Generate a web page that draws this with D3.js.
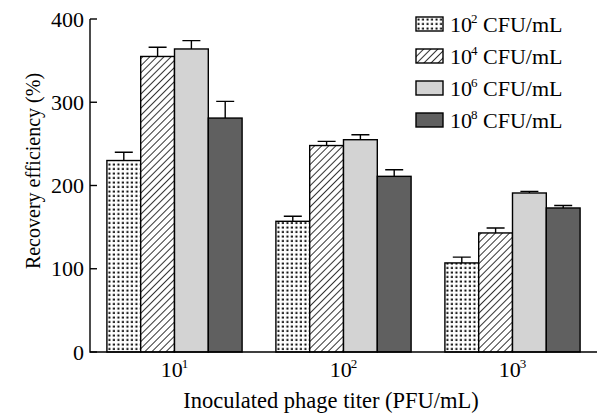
<!DOCTYPE html>
<html>
<head>
<meta charset="utf-8">
<script src="https://cdn.jsdelivr.net/npm/d3@7"></script>
<style>
  body { margin: 0; background: #fff; }
  text { font-family: "Liberation Serif", "Times New Roman", serif; fill: #000; }
</style>
</head>
<body>
<div id="chart"></div>
<script>
// ---------- Data ----------
const groups = ["1", "2", "3"];            // exponents of 10 (PFU/mL)
const seriesExp = ["2", "4", "6", "8"];    // exponents of 10 (CFU/mL)
const values = [
  [230, 355, 364, 281],
  [157, 248, 255, 211],
  [107, 143, 191, 173]
];
const errors = [
  [10, 11, 10, 20],
  [6, 5, 6, 8],
  [7, 6, 2, 3]
];
const yTicks = [0, 100, 200, 300, 400];

// ---------- Layout ----------
const width = 597, height = 414;
const plot = { left: 90, right: 597, top: 19, bottom: 352 };

const svg = d3.select("#chart").append("svg")
  .attr("width", width)
  .attr("height", height);

// ---------- Patterns ----------
const defs = svg.append("defs");

const dots = defs.append("pattern")
  .attr("id", "dots")
  .attr("patternUnits", "userSpaceOnUse")
  .attr("width", 4.5).attr("height", 4.5);
dots.append("rect").attr("width", 4.5).attr("height", 4.5).attr("fill", "#fff");
dots.append("rect").attr("x", 1.5).attr("y", 1.5).attr("width", 2).attr("height", 2).attr("fill", "#000");

const hatch = defs.append("pattern")
  .attr("id", "hatch")
  .attr("patternUnits", "userSpaceOnUse")
  .attr("width", 5).attr("height", 5)
  .attr("patternTransform", "rotate(45)");
hatch.append("rect").attr("width", 5).attr("height", 5).attr("fill", "#fff");
hatch.append("line")
  .attr("x1", 0).attr("y1", 0).attr("x2", 0).attr("y2", 5)
  .attr("stroke", "#000").attr("stroke-width", 1.6);

const fills = ["url(#dots)", "url(#hatch)", "#d3d3d3", "#606060"];

// ---------- Scales ----------
const x = d3.scaleBand()
  .domain(groups)
  .range([plot.left, plot.right])
  .paddingInner(0.2)
  .paddingOuter(0.1);

const xInner = d3.scaleBand()
  .domain(seriesExp)
  .range([0, x.bandwidth()]);

const y = d3.scaleLinear()
  .domain([0, 400])
  .range([plot.bottom, plot.top]);

// ---------- Bars ----------
const gGroups = svg.selectAll(".group")
  .data(groups)
  .enter()
  .append("g")
  .attr("class", "group")
  .attr("transform", d => `translate(${x(d)},0)`);

gGroups.each(function(g, gi) {
  const sel = d3.select(this);
  const rows = seriesExp.map((s, si) => ({ s, si, v: values[gi][si], e: errors[gi][si] }));

  // error bars
  sel.selectAll(".err")
    .data(rows)
    .enter()
    .append("path")
    .attr("class", "err")
    .attr("fill", "none")
    .attr("stroke", "#000")
    .attr("stroke-width", 1.4)
    .attr("d", d => {
      const cx = xInner(d.s) + xInner.bandwidth() / 2;
      const top = y(d.v + d.e);
      return `M${cx},${y(d.v)}V${top}M${cx - 9},${top}H${cx + 9}`;
    });

  sel.selectAll(".bar")
    .data(rows)
    .enter()
    .append("rect")
    .attr("class", "bar")
    .attr("x", d => xInner(d.s))
    .attr("y", d => y(d.v))
    .attr("width", xInner.bandwidth())
    .attr("height", d => y(0) - y(d.v))
    .attr("fill", d => fills[d.si])
    .attr("stroke", "#000")
    .attr("stroke-width", 1.4);
});

// ---------- Axes ----------
svg.append("path")
  .attr("fill", "none")
  .attr("stroke", "#000")
  .attr("stroke-width", 1.4)
  .attr("d", `M${plot.left},${plot.top}V${plot.bottom}H${plot.right}`);

svg.selectAll(".ytick")
  .data(yTicks)
  .enter()
  .append("line")
  .attr("x1", plot.left)
  .attr("x2", plot.left + 7)
  .attr("y1", d => y(d))
  .attr("y2", d => y(d))
  .attr("stroke", "#000")
  .attr("stroke-width", 1.4);

svg.selectAll(".ylabel")
  .data(yTicks)
  .enter()
  .append("text")
  .attr("x", plot.left - 6)
  .attr("y", d => y(d))
  .attr("dy", "0.35em")
  .attr("text-anchor", "end")
  .style("font-size", "22px")
  .text(d => d);

// x tick labels 10^n
const xl = svg.selectAll(".xlabel")
  .data(groups)
  .enter()
  .append("text")
  .attr("x", d => x(d) + x.bandwidth() / 2)
  .attr("y", 377)
  .attr("text-anchor", "middle")
  .style("font-size", "22px");
xl.append("tspan").text("10");
xl.append("tspan").attr("dx", -1).attr("dy", -9).style("font-size", "13px").text(d => d);

// axis titles
svg.append("text")
  .attr("x", 331)
  .attr("y", 408)
  .attr("text-anchor", "middle")
  .style("font-size", "22.5px")
  .text("Inoculated phage titer (PFU/mL)");

svg.append("text")
  .attr("transform", "translate(40,171) rotate(-90)")
  .attr("text-anchor", "middle")
  .style("font-size", "20px")
  .text("Recovery efficiency (%)");

// ---------- Legend ----------
const legend = svg.append("g")
  .attr("transform", "translate(416,17)");

const items = legend.selectAll(".item")
  .data(seriesExp)
  .enter()
  .append("g")
  .attr("transform", (d, i) => `translate(0,${i * 32})`);

items.append("rect")
  .attr("width", 27)
  .attr("height", 14)
  .attr("fill", (d, i) => fills[i])
  .attr("stroke", "#000")
  .attr("stroke-width", 1.4);

const lt = items.append("text")
  .attr("x", 34)
  .attr("y", 15)
  .style("font-size", "22px");
lt.append("tspan").text("10");
lt.append("tspan").attr("dx", -1).attr("dy", -9).style("font-size", "13px").text(d => d);
lt.append("tspan").attr("dy", 9).text(" CFU/mL");
</script>
</body>
</html>
